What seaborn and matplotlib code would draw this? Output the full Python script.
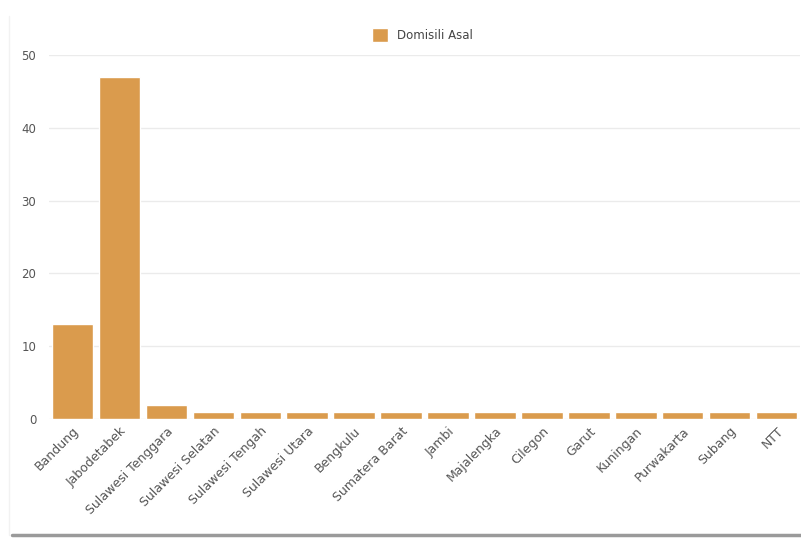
import matplotlib
matplotlib.use("Agg")
import matplotlib.pyplot as plt
from matplotlib.lines import Line2D
import pandas as pd
import seaborn as sns

daerah = ["Bandung", "Jabodetabek", "Sulawesi Tenggara", "Sulawesi Selatan",
          "Sulawesi Tengah", "Sulawesi Utara", "Bengkulu", "Sumatera Barat",
          "Jambi", "Majalengka", "Cilegon", "Garut", "Kuningan", "Purwakarta",
          "Subang", "NTT"]
jumlah = [13, 47, 2, 1, 1, 1, 1, 1, 1, 1, 1, 1, 1, 1, 1, 1]
label_seri = "Domisili Asal"
warna = "#DA9B4D"

df = pd.DataFrame({"daerah": daerah, "jumlah": jumlah})

sns.set_style("white")
plt.rcParams["font.family"] = ["DejaVu Sans"]

fig = plt.figure(figsize=(8.01, 5.38), dpi=100)
ax = fig.add_axes([0.061, 0.221, 0.938, 0.677])

sns.barplot(data=df, x="daerah", y="jumlah", color=warna, width=0.88,
            saturation=1, label=label_seri, ax=ax)

ax.set_ylim(0, 50)
ax.set_xlim(-0.5, len(daerah) - 0.5)
ax.set_yticks([0, 10, 20, 30, 40, 50])
ax.yaxis.grid(True, color="#EBEBEB", linewidth=1)
ax.set_axisbelow(True)
for s in ax.spines.values():
    s.set_visible(False)
ax.set_xlabel("")
ax.set_ylabel("")
ax.tick_params(axis="y", length=0, labelsize=8.5, labelcolor="#555555", pad=9)
ax.tick_params(axis="x", length=0, labelsize=9, labelcolor="#555555", pad=4)
plt.setp(ax.get_xticklabels(), rotation=45, ha="right", rotation_mode="anchor")

ax.legend(loc="center", bbox_to_anchor=(0.527, 0.935), bbox_transform=fig.transFigure,
          frameon=False, fontsize=8.5, handlelength=1.4, handleheight=1.4,
          handletextpad=0.7, labelcolor="#444444")

# garis tepi kartu
fig.add_artist(Line2D([0.015, 1.0], [0.006, 0.006], color="#9A9A9A", linewidth=2.5,
                      transform=fig.transFigure))
fig.add_artist(Line2D([0.011, 0.011], [0.006, 0.97], color="#F2F2F2", linewidth=1,
                      transform=fig.transFigure))

fig.savefig("out.png", dpi=100)
